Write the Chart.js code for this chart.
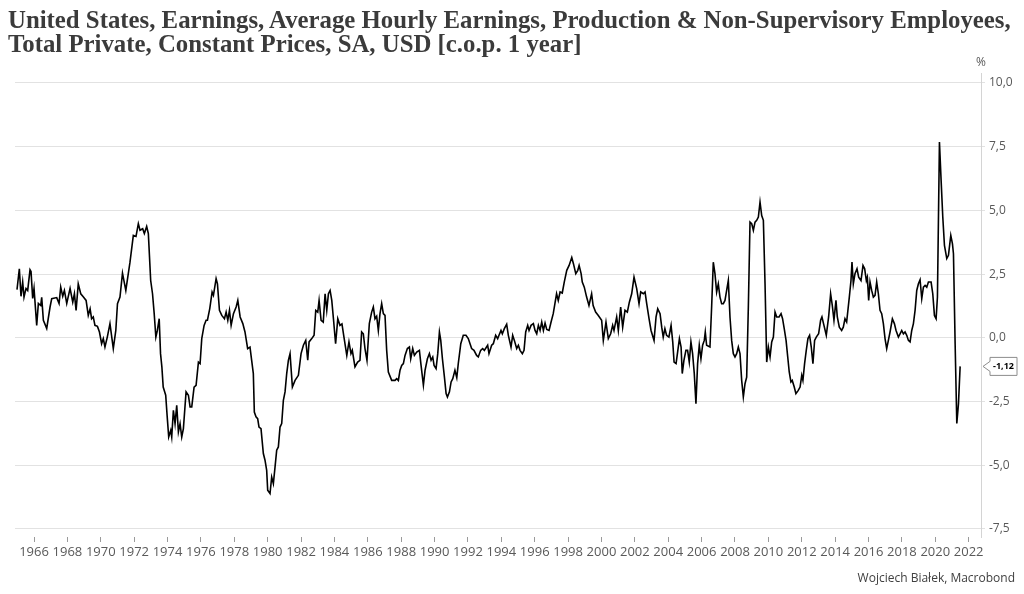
<!DOCTYPE html>
<html>
<head>
<meta charset="utf-8">
<title>United States, Average Hourly Earnings, Constant Prices</title>
<script src="https://cdn.jsdelivr.net/npm/chart.js@4.4.1/dist/chart.umd.min.js"></script>
<style>
    body {
        margin: 0;
        width: 1024px;
        height: 594px;
        overflow: hidden;
        position: relative;
        background: #fff;
        font-family: "Open Sans", sans-serif;
    }
    #wrap {
        position: absolute;
        left: 0;
        top: 0;
        width: 1024px;
        height: 594px;
    }
    #title {
        position: absolute;
        left: 8px;
        top: 8px;
        font-family: "Liberation Serif", serif;
        font-weight: bold;
        font-size: 24.8px;
        line-height: 24px;
        color: #3b3b3b;
        white-space: nowrap;
    }
    #source {
        position: absolute;
        right: 9px;
        top: 569px;
        font-size: 12px;
        color: #404040;
    }
</style>
</head>
<body>
    <div id="wrap"><canvas id="chart"></canvas></div>
    <div id="title">United States, Earnings, Average Hourly Earnings, Production &amp; Non-Supervisory Employees,<br>Total Private, Constant Prices, SA, USD [c.o.p. 1 year]</div>
    <div id="source">Wojciech Białek, Macrobond</div>

<script>
// year-over-year change, % (dates as decimal years)
const dates1965 = [1964.98, 1965.12, 1965.22, 1965.32, 1965.40, 1965.52, 1965.62, 1965.76, 1965.82, 1965.92,
                   1966.00, 1966.16, 1966.26, 1966.40, 1966.46, 1966.56, 1966.76, 1966.96, 1967.06, 1967.36,
                   1967.50, 1967.60, 1967.72, 1967.82, 1967.96, 1968.16, 1968.32, 1968.42, 1968.52, 1968.65,
                   1968.80, 1968.96, 1969.12, 1969.25, 1969.36, 1969.45, 1969.55, 1969.65, 1969.80, 1969.92,
                   1970.05, 1970.15, 1970.25, 1970.39, 1970.55, 1970.75, 1970.90, 1971.00, 1971.15, 1971.30,
                   1971.50, 1971.75, 1971.95];
const values1965 = [1.89, 2.71, 1.63, 2.19, 1.60, 1.94, 1.86, 2.67, 2.60, 1.55,
                    1.94, 0.49, 1.35, 1.27, 1.59, 0.69, 0.37, 1.21, 1.54, 1.58,
                    1.35, 1.99, 1.63, 1.86, 1.35, 1.94, 1.40, 1.73, 1.08, 2.12,
                    1.73, 1.60, 1.47, 0.88, 1.14, 0.75, 0.82, 0.49, 0.45, 0.23,
                    -0.23, -0.03, -0.36, 0.03, 0.56, -0.42, 0.29, 1.34, 1.60, 2.54,
                    1.86, 2.97, 4.02];

const dates1972 = [1972.11, 1972.25, 1972.35, 1972.51, 1972.61, 1972.75, 1972.85, 1972.99, 1973.10, 1973.20,
                   1973.30, 1973.39, 1973.50, 1973.58, 1973.66, 1973.74, 1973.89, 1973.98, 1974.07, 1974.19,
                   1974.25, 1974.35, 1974.45, 1974.55, 1974.65, 1974.75, 1974.85, 1974.95, 1975.11, 1975.25,
                   1975.35, 1975.45, 1975.59, 1975.71, 1975.85, 1975.95, 1976.05, 1976.19, 1976.31, 1976.39,
                   1976.53, 1976.67, 1976.75, 1976.91, 1976.99, 1977.11, 1977.25, 1977.41, 1977.51, 1977.61,
                   1977.71, 1977.81, 1977.95, 1978.11, 1978.21, 1978.35, 1978.51, 1978.64, 1978.80, 1978.94];
const values1972 = [3.98, 4.48, 4.22, 4.28, 4.09, 4.37, 4.09, 2.25, 1.73, 0.95,
                    0.03, 0.29, 0.75, -0.62, -1.14, -1.93, -2.25, -3.10, -3.89, -3.63,
                    -3.89, -2.84, -3.37, -2.65, -3.69, -3.37, -3.89, -3.56, -2.12, -2.25,
                    -2.71, -2.71, -1.93, -1.86, -0.95, -1.01, -0.03, 0.49, 0.69, 0.69,
                    1.15, 1.80, 1.67, 2.32, 2.12, 1.08, 0.88, 0.75, 1.01, 0.69,
                    1.08, 0.49, 0.95, 1.21, 1.47, 0.82, 0.56, 0.23, -0.42, -0.36];

const dates1979 = [1979.04, 1979.14, 1979.20, 1979.30, 1979.40, 1979.48, 1979.60, 1979.74, 1979.84, 1979.94,
                   1980.00, 1980.14, 1980.24, 1980.34, 1980.44, 1980.54, 1980.64, 1980.74, 1980.84, 1980.94,
                   1981.04, 1981.14, 1981.24, 1981.34, 1981.48, 1981.64, 1981.84, 1982.00, 1982.14, 1982.28,
                   1982.40, 1982.48, 1982.64, 1982.78, 1982.88, 1983.00, 1983.08, 1983.20, 1983.33, 1983.44,
                   1983.54, 1983.64, 1983.74, 1983.84, 1983.94, 1984.07, 1984.20, 1984.33, 1984.45, 1984.57,
                   1984.74, 1984.87, 1984.99, 1985.07, 1985.23, 1985.39, 1985.53, 1985.63, 1985.73, 1985.83,
                   1985.95];
const values1979 = [-0.88, -1.40, -2.91, -3.10, -3.17, -3.50, -3.56, -4.54, -4.80, -5.20,
                    -5.98, -6.11, -5.46, -5.72, -5.07, -4.41, -4.28, -3.50, -3.36, -2.45,
                    -2.12, -1.40, -0.88, -0.62, -1.93, -1.67, -1.47, -0.62, -0.29, -0.10,
                    -0.88, -0.16, -0.03, 0.10, 1.08, 1.01, 1.47, 0.69, 0.62, 1.73,
                    1.08, 1.73, 1.86, 1.47, 0.75, -0.23, 0.75, 0.49, 0.55, 0.03,
                    -0.69, -0.16, -0.62, -0.49, -1.14, -0.95, -0.88, 0.23, 0.16, -0.42,
                    -0.88];

const dates1986 = [1986.09, 1986.23, 1986.33, 1986.43, 1986.53, 1986.63, 1986.73, 1986.83, 1986.93, 1987.03,
                   1987.13, 1987.23, 1987.43, 1987.63, 1987.73, 1987.83, 1987.93, 1988.03, 1988.13, 1988.23,
                   1988.37, 1988.49, 1988.57, 1988.69, 1988.79, 1988.93, 1989.09, 1989.19, 1989.33, 1989.43,
                   1989.57, 1989.69, 1989.79, 1989.89, 1989.97, 1990.09, 1990.19, 1990.29, 1990.37, 1990.47,
                   1990.59, 1990.69, 1990.77, 1990.89, 1990.99, 1991.09, 1991.22, 1991.33, 1991.42, 1991.57,
                   1991.72, 1991.88, 1992.02, 1992.22, 1992.36, 1992.52, 1992.62, 1992.76, 1992.88];
const values1986 = [0.56, 1.01, 1.21, 0.75, 0.85, 0.29, 0.95, 1.34, 0.95, 0.88,
                    -0.49, -1.34, -1.67, -1.67, -1.60, -1.67, -1.27, -1.08, -1.01, -0.69,
                    -0.42, -0.36, -0.82, -0.42, -0.69, -0.56, -0.49, -1.08, -1.86, -1.27,
                    -0.82, -0.62, -0.88, -0.75, -1.08, -1.21, -0.62, 0.23, -0.10, -0.82,
                    -1.54, -2.19, -2.32, -2.12, -1.73, -1.60, -1.27, -1.56, -1.01, -0.23,
                    0.10, 0.10, -0.03, -0.42, -0.49, -0.69, -0.75, -0.49, -0.42];

const dates1993 = [1992.98, 1993.18, 1993.26, 1993.42, 1993.52, 1993.66, 1993.78, 1993.86, 1993.98, 1994.06,
                   1994.18, 1994.32, 1994.42, 1994.58, 1994.68, 1994.78, 1994.92, 1995.02, 1995.12, 1995.26,
                   1995.36, 1995.46, 1995.58, 1995.66, 1995.78, 1995.92, 1996.02, 1996.12, 1996.22, 1996.32,
                   1996.42, 1996.52, 1996.62, 1996.72, 1996.86, 1996.98, 1997.11, 1997.21, 1997.31, 1997.41,
                   1997.52, 1997.65, 1997.77, 1997.92, 1998.06, 1998.22, 1998.32, 1998.46, 1998.58, 1998.66,
                   1998.78, 1998.85, 1998.97, 1999.11, 1999.25, 1999.41, 1999.50, 1999.65, 1999.81];
const values1993 = [-0.49, -0.29, -0.62, -0.29, -0.23, 0.10, -0.03, 0.10, 0.29, 0.16,
                    0.36, 0.53, 0.10, -0.36, 0.10, -0.10, -0.42, -0.29, -0.49, -0.62,
                    -0.49, 0.23, 0.49, 0.29, 0.49, 0.56, 0.29, 0.16, 0.49, 0.29,
                    0.62, 0.29, 0.58, 0.33, 0.29, 0.62, 0.95, 1.34, 1.73, 1.47,
                    1.80, 1.76, 2.19, 2.65, 2.84, 3.15, 2.91, 2.52, 2.65, 2.84,
                    2.52, 2.19, 1.99, 1.60, 1.27, 1.73, 1.27, 1.01, 0.88];

const dates2000 = [2000.01, 2000.11, 2000.27, 2000.41, 2000.55, 2000.67, 2000.75, 2000.91, 2001.01, 2001.15,
                   2001.27, 2001.41, 2001.55, 2001.67, 2001.81, 2001.95, 2002.11, 2002.25, 2002.35, 2002.51,
                   2002.61, 2002.71, 2002.85, 2002.97, 2003.15, 2003.27, 2003.37, 2003.51, 2003.61, 2003.70,
                   2003.80, 2003.90, 2004.04, 2004.17, 2004.27, 2004.35, 2004.47, 2004.55, 2004.67, 2004.77,
                   2004.84, 2004.94, 2005.06, 2005.16, 2005.26, 2005.36, 2005.46, 2005.56, 2005.66, 2005.76,
                   2005.86, 2005.96, 2006.06, 2006.16, 2006.22, 2006.30, 2006.50, 2006.60];
const values2000 = [0.69, -0.10, 0.62, -0.03, 0.16, 0.49, 0.29, 0.82, 0.29, 1.21,
                    0.42, 1.08, 1.01, 1.40, 1.73, 2.38, 1.93, 1.34, 1.80, 1.73,
                    1.80, 1.34, 0.75, 0.29, -0.10, 0.82, 1.14, 0.95, 0.42, 0.03,
                    0.36, 0.10, 0.03, 0.49, -0.16, -0.95, -1.01, -0.62, -0.03, -0.36,
                    -1.40, -0.88, -0.49, -0.49, -0.95, -0.16, -0.62, -1.40, -2.58, -1.01,
                    -0.29, -0.82, -0.29, -0.10, 0.23, -0.29, -0.36, 1.21];

const dates2006 = [2006.70, 2006.80, 2006.90, 2007.00, 2007.10, 2007.20, 2007.30, 2007.40, 2007.50, 2007.60,
                   2007.70, 2007.80, 2007.90, 2008.00, 2008.10, 2008.20, 2008.30, 2008.40, 2008.50, 2008.60,
                   2008.70, 2008.80, 2008.90, 2009.00, 2009.10, 2009.20, 2009.30, 2009.40, 2009.50, 2009.60,
                   2009.70, 2009.80, 2009.90, 2010.00, 2010.10, 2010.20, 2010.30, 2010.40, 2010.50, 2010.64,
                   2010.76, 2010.85, 2010.95, 2011.06, 2011.16, 2011.25, 2011.35, 2011.43, 2011.55, 2011.65,
                   2011.79, 2011.90, 2012.00, 2012.07, 2012.17, 2012.27, 2012.37, 2012.47, 2012.57, 2012.67,
                   2012.77, 2012.87, 2013.01, 2013.13, 2013.21, 2013.33, 2013.47, 2013.61, 2013.73];
const values2006 = [2.97, 2.52, 1.80, 2.12, 1.60, 1.34, 1.34, 1.47, 1.86, 2.25,
                    0.82, -0.10, -0.62, -0.75, -0.62, -0.36, -0.62, -1.67, -2.32, -1.80,
                    -1.54, 1.21, 4.54, 4.48, 4.22, 4.54, 4.61, 4.74, 5.33, 4.80,
                    4.61, 2.12, -0.95, -0.36, -0.75, -0.16, 0.03, 1.01, 0.82, 0.82,
                    0.95, 0.75, 0.36, -0.10, -0.75, -1.34, -1.73, -1.67, -1.93, -2.19,
                    -2.06, -1.93, -1.47, -1.67, -1.01, -0.49, -0.03, 0.10, -0.36, -1.01,
                    -0.10, 0.03, 0.16, 0.69, 0.82, 0.49, 0.10, 0.82, 1.73];

const dates2014 = [2013.83, 2013.93, 2014.05, 2014.13, 2014.25, 2014.39, 2014.49, 2014.59, 2014.69, 2014.85,
                   2014.95, 2015.01, 2015.09, 2015.19, 2015.31, 2015.41, 2015.55, 2015.67, 2015.77, 2015.87,
                   2015.93, 2016.01, 2016.09, 2016.19, 2016.29, 2016.39, 2016.49, 2016.59, 2016.69, 2016.79,
                   2016.89, 2016.99, 2017.09, 2017.19, 2017.29, 2017.43, 2017.55, 2017.65, 2017.79, 2017.89,
                   2017.99, 2018.09, 2018.19, 2018.29, 2018.39, 2018.49, 2018.59, 2018.69, 2018.79, 2018.89,
                   2018.99, 2019.09, 2019.19, 2019.29, 2019.39, 2019.49, 2019.59, 2019.75, 2019.85, 2019.95,
                   2020.05, 2020.13, 2020.25, 2020.35, 2020.45, 2020.55, 2020.69, 2020.79, 2020.93, 2021.03,
                   2021.09, 2021.19, 2021.29, 2021.39, 2021.49];
const values2014 = [1.27, 0.69, 1.47, 0.82, 0.42, 0.29, 0.42, 0.75, 0.62, 1.60,
                    2.25, 2.97, 2.12, 2.52, 2.71, 2.38, 2.25, 2.84, 2.71, 2.25,
                    2.38, 1.47, 2.19, 1.86, 1.60, 1.67, 2.19, 1.73, 1.08, 0.95,
                    0.56, -0.03, -0.42, -0.10, 0.23, 0.75, 0.56, 0.29, 0.03, 0.16,
                    0.29, 0.16, 0.23, 0.10, -0.10, -0.16, 0.29, 0.56, 1.08, 1.86,
                    2.12, 2.28, 1.54, 1.99, 2.06, 1.99, 2.19, 2.19, 1.73, 0.88,
                    0.75, 1.60, 7.68, 6.18, 4.74, 3.63, 3.11, 3.24, 4.02, 3.69,
                    3.30, -0.23, -3.36, -2.58, -1.12];

const yearTicks = [1966, 1968, 1970, 1972, 1974, 1976, 1978, 1980, 1982, 1984, 1986, 1988, 1990, 1992,
                   1994, 1996, 1998, 2000, 2002, 2004, 2006, 2008, 2010, 2012, 2014, 2016, 2018, 2020, 2022];
const valueTicks = [-7.5, -5, -2.5, 0, 2.5, 5, 7.5, 10];

const dates = [].concat(dates1965, dates1972, dates1979, dates1986, dates1993, dates2000, dates2006, dates2014);
const values = [].concat(values1965, values1972, values1979, values1986, values1993, values2000, values2006, values2014);
const points = dates.map((d, i) => ({ x: d, y: values[i] }));
const lastValue = values[values.length - 1];

const fmt = v => v.toFixed(1).replace('.', ',');

// "%" above the axis and the boxed last value
const extras = {
    id: 'extras',
    afterDraw(chart) {
        const ctx = chart.ctx;
        const area = chart.chartArea;
        const py = chart.scales.y.getPixelForValue(lastValue);
        const tip = area.right + 2, bx = 990, bw = 27, bh = 18;
        ctx.save();
        ctx.beginPath();
        ctx.moveTo(tip, py);
        ctx.lineTo(bx, py - 5);
        ctx.lineTo(bx, py - bh / 2);
        ctx.lineTo(bx + bw, py - bh / 2);
        ctx.lineTo(bx + bw, py + bh / 2);
        ctx.lineTo(bx, py + bh / 2);
        ctx.lineTo(bx, py + 5);
        ctx.closePath();
        ctx.fillStyle = '#fff';
        ctx.fill();
        ctx.strokeStyle = '#8c8c8c';
        ctx.lineWidth = 1;
        ctx.stroke();
        ctx.fillStyle = '#000';
        ctx.font = 'bold 9px "Open Sans"';
        ctx.textAlign = 'center';
        ctx.textBaseline = 'middle';
        ctx.fillText(lastValue.toFixed(2).replace('.', ','), bx + bw / 2, py + 0.5);
        ctx.fillStyle = '#595959';
        ctx.font = '12px "Open Sans"';
        ctx.fillText('%', area.right, 63);
        ctx.restore();
    }
};

new Chart(document.getElementById('chart'), {
    type: 'line',
    data: {
        datasets: [{
            data: points,
            borderColor: '#000',
            borderWidth: 1.6,
            pointRadius: 0,
            tension: 0
        }]
    },
    options: {
        responsive: true,
        maintainAspectRatio: false,
        animation: false,
        layout: { padding: { top: 73, left: 15, right: 0, bottom: 32 } },
        plugins: {
            legend: { display: false },
            tooltip: { enabled: false }
        },
        scales: {
            x: {
                type: 'linear',
                min: 1964.86,
                max: 2022.74,
                afterBuildTicks: s => { s.ticks = yearTicks.map(v => ({ value: v })); },
                afterFit: s => { s.height = 25; },
                ticks: {
                    autoSkip: false,
                    maxRotation: 0,
                    padding: 2,
                    color: '#595959',
                    font: { family: '"Open Sans"', size: 13 },
                    callback: v => String(v)
                },
                grid: { drawOnChartArea: false, tickLength: 5, color: '#9a9a9a' },
                border: { display: false }
            },
            y: {
                position: 'right',
                min: -7.814,
                max: 10.392,
                afterBuildTicks: s => { s.ticks = valueTicks.map(v => ({ value: v })); },
                afterFit: s => { s.width = 43; },
                ticks: {
                    padding: 4,
                    color: '#595959',
                    font: { family: '"Open Sans"', size: 12 },
                    callback: v => fmt(v)
                },
                grid: { color: '#e2e2e2', tickLength: 4 },
                border: { display: true, color: '#d4d4d4' }
            }
        }
    },
    plugins: [extras]
});
</script>
</body>
</html>
